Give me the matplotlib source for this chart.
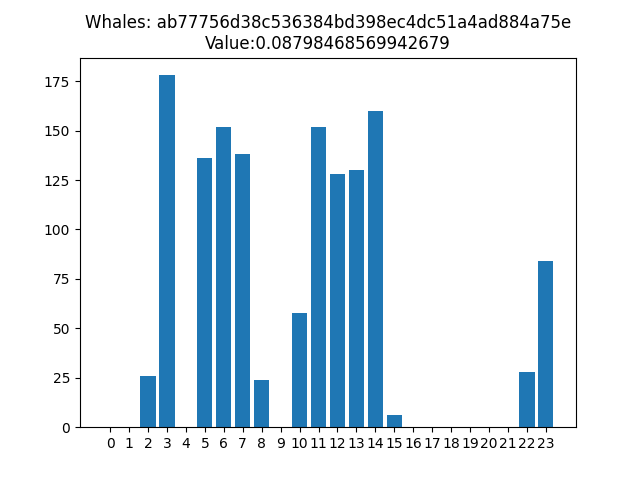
import matplotlib
matplotlib.use('Agg')
import matplotlib.pyplot as plt

hours = list(range(24))
counts = [0, 0, 26, 178, 0, 136, 152, 138, 24, 0, 58, 152, 128, 130, 160, 6,
          0, 0, 0, 0, 0, 0, 28, 84]

fig, ax = plt.subplots(figsize=(6.4, 4.8), dpi=100)
ax.bar(hours, counts)
ax.set_xticks(hours)
ax.set_title('Whales: ab77756d38c536384bd398ec4dc51a4ad884a75e\nValue:0.08798468569942679')
fig.savefig('out.png')
